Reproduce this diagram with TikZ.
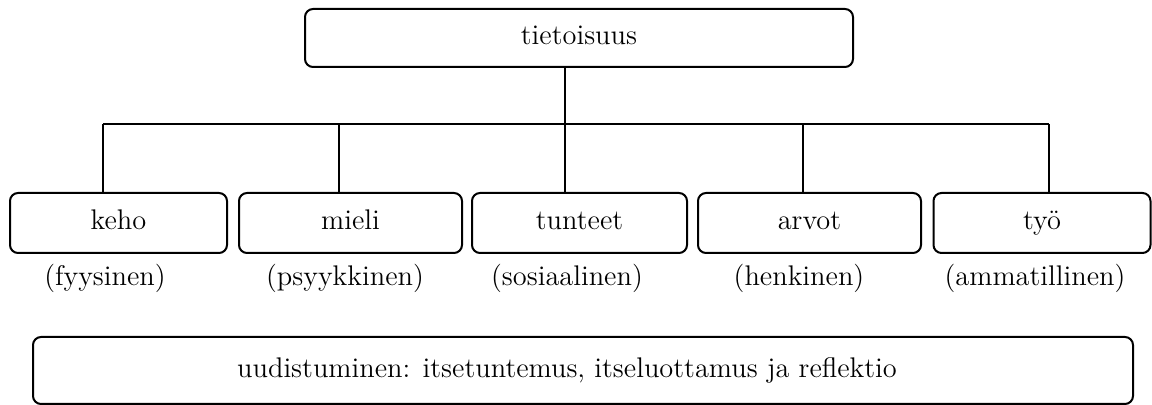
\documentclass[tikz,border=0pt]{standalone}
\begin{document}
\begin{tikzpicture}[x=0.5pt,y=-0.5pt,
  box/.style={draw,rounded corners=4pt,line width=1pt,inner sep=0pt,
    minimum height=30pt,text height=0.69em,text depth=0pt,
    font=\fontsize{14.2}{16}\selectfont},
  sub/.style={anchor=base,inner sep=0pt,font=\fontsize{14.2}{16}\selectfont},
  bar/.style={line width=0.8pt}]

\useasboundingbox (0,0) rectangle (1152,405);

\node[box,minimum width=274pt,minimum height=29pt] (tieto) at (579,38) {tietoisuus};

\node[box,minimum width=108.5pt] (keho) at (118.5,223) {keho};
\node[box,minimum width=111.5pt] (mieli) at (350.5,223) {mieli};
\node[box,minimum width=107.5pt] (tunteet) at (579.5,223) {tunteet};
\node[box,minimum width=111.5pt] (arvot) at (809.5,223) {arvot};
\node[box,minimum width=108.5pt] (tyo) at (1042,223) {työ};

\node[sub] (fyys) at (105,286) {(fyysinen)};
\node[sub] (psyyk) at (345,286) {(psyykkinen)};
\node[sub] (sosi) at (567,286) {(sosiaalinen)};
\node[sub] (henk) at (799,286) {(henkinen)};
\node[sub] (ammat) at (1035,286) {(ammatillinen)};

\node[box,minimum width=550pt,minimum height=33.5pt] (uudis) at (583,370.5)
  {\hspace*{-16pt}uudistuminen: itsetuntemus, itseluottamus ja reflektio};

% haarat
\coordinate (b1) at (103,124);
\coordinate (b2) at (339,124);
\coordinate (b3) at (565,124);
\coordinate (b4) at (803,124);
\coordinate (b5) at (1049,124);

\draw[bar] (b1) -- (b5);
\draw[bar] (tieto.south -| b3) -- (tunteet.north -| b3);
\draw[bar] (b1) -- (b1 |- keho.north);
\draw[bar] (b2) -- (b2 |- mieli.north);
\draw[bar] (b4) -- (b4 |- arvot.north);
\draw[bar] (b5) -- (b5 |- tyo.north);

\end{tikzpicture}
\end{document}
